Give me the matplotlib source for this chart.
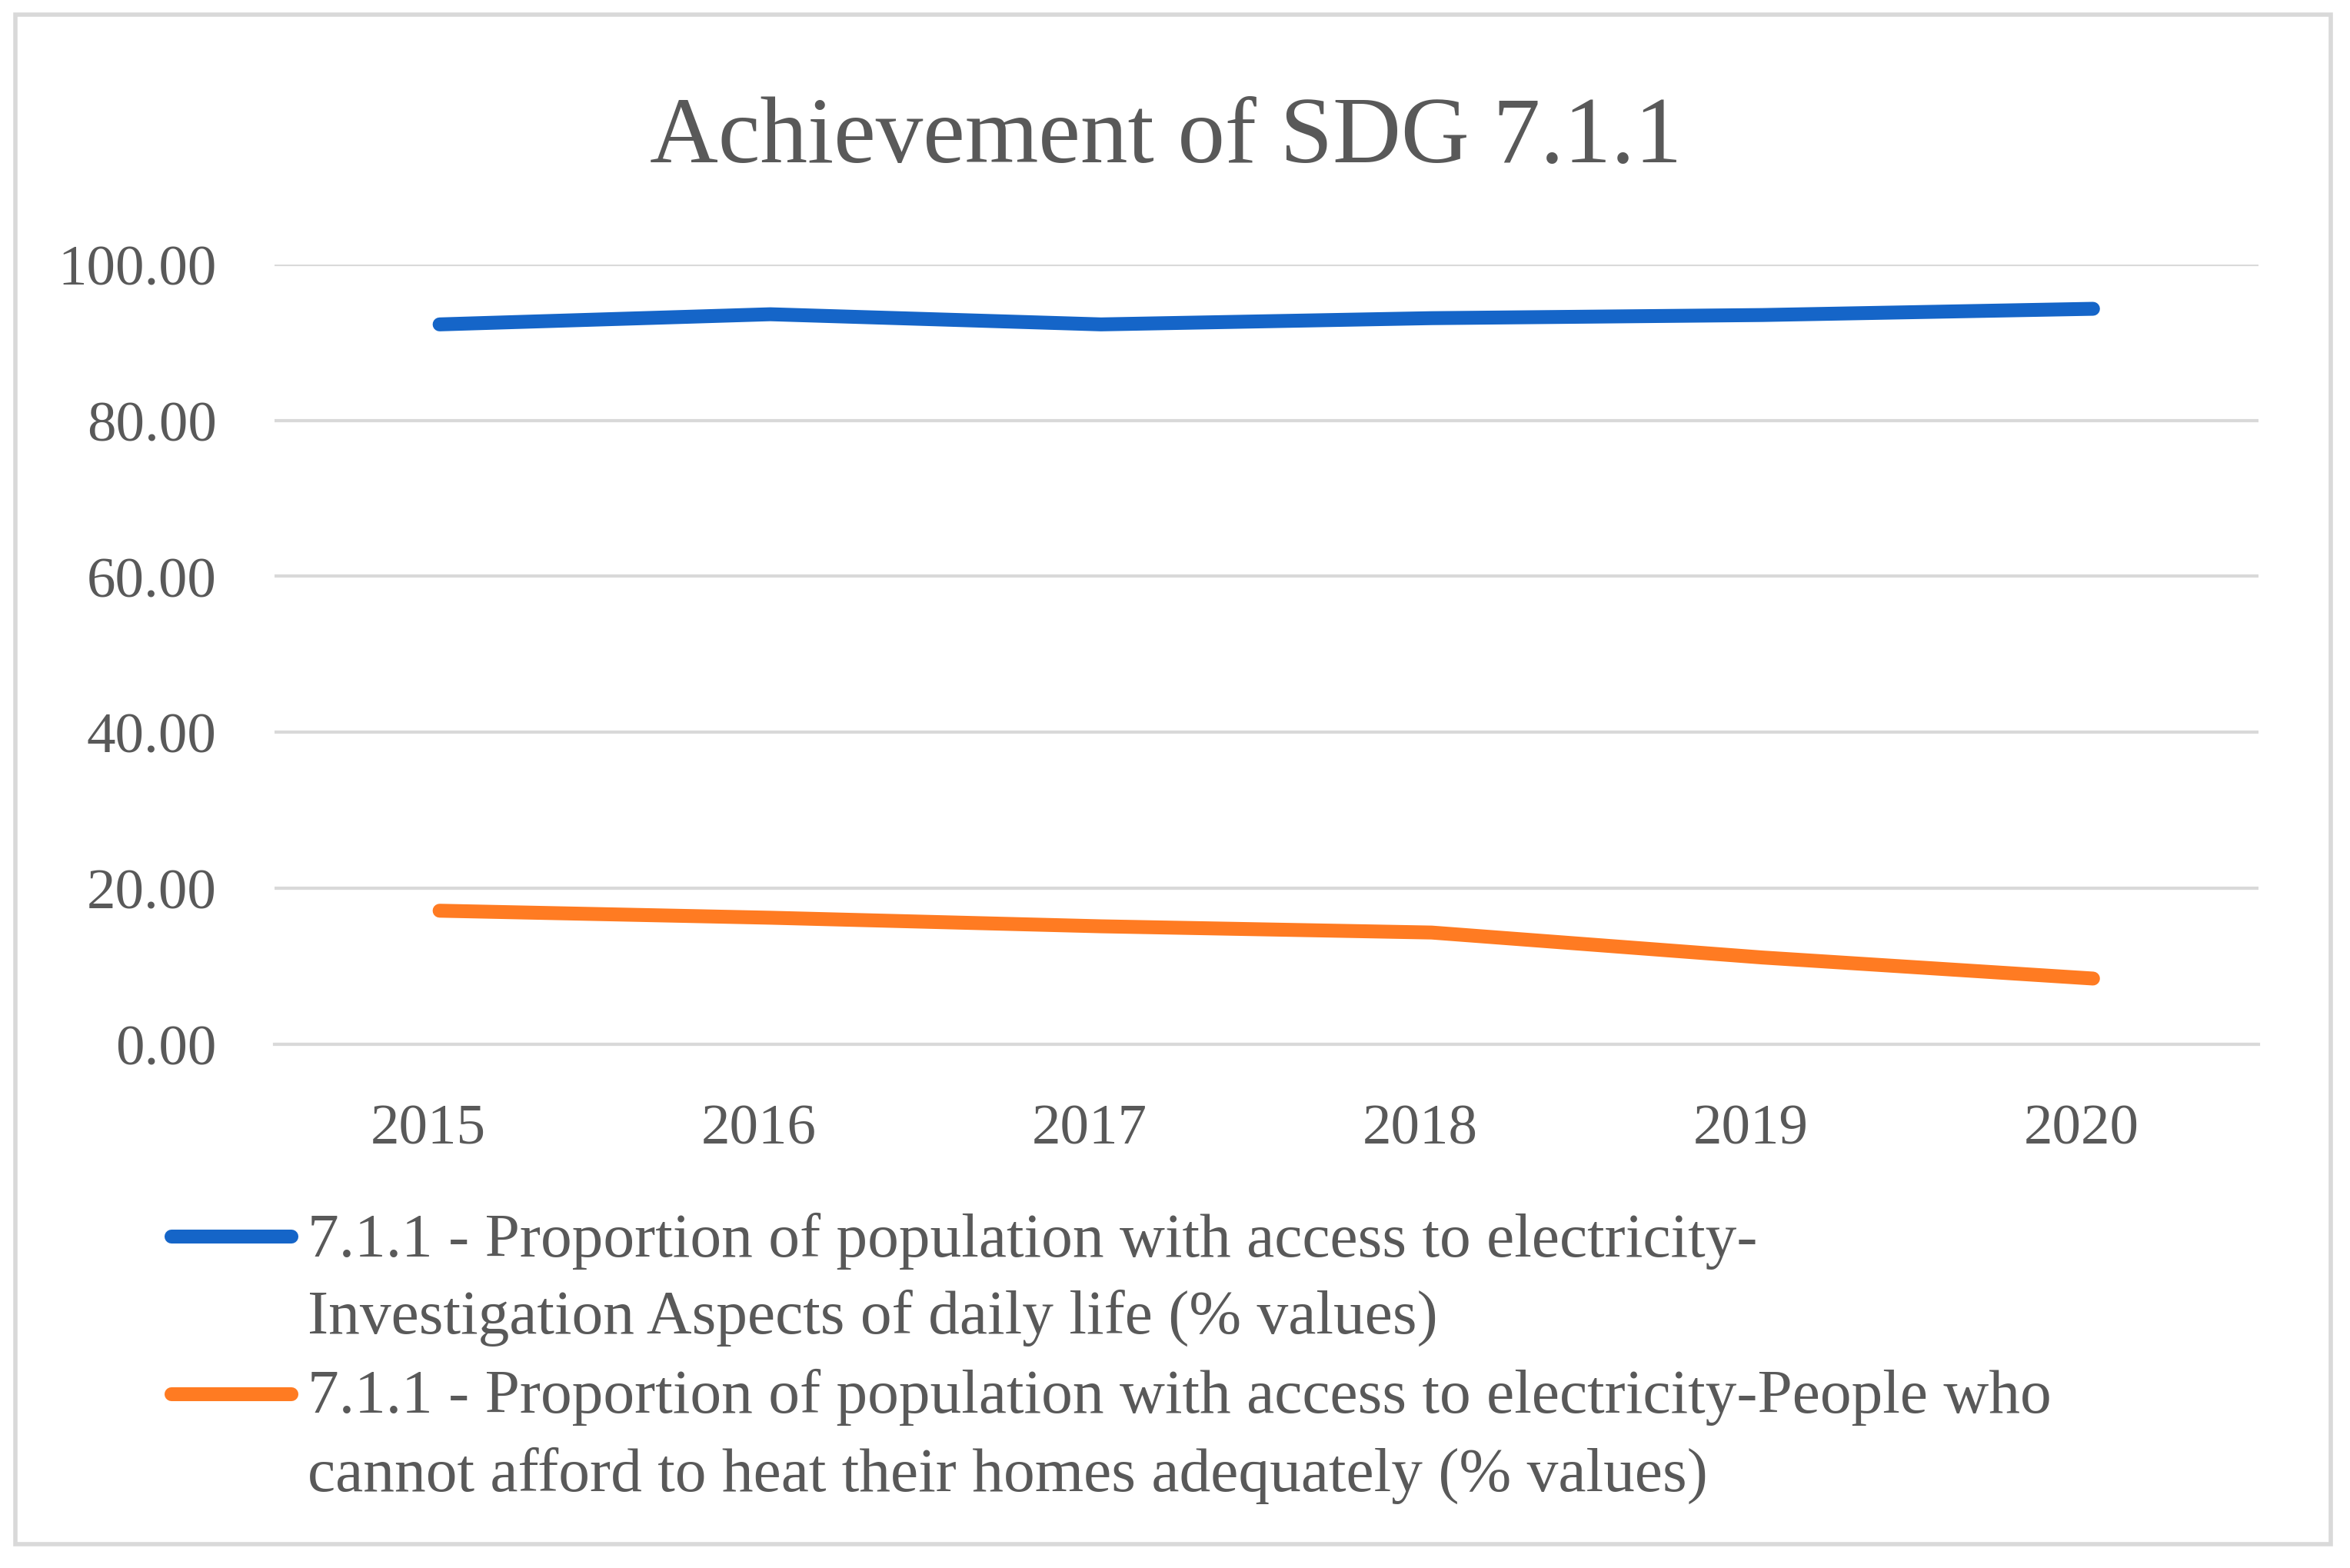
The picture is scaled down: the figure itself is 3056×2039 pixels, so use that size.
import matplotlib.pyplot as plt
from matplotlib.lines import Line2D
from matplotlib.patches import Rectangle
from matplotlib.transforms import ScaledTranslation

# data
years = [2015, 2016, 2017, 2018, 2019, 2020]
access_daily_life = [92.3, 93.6, 92.3, 93.1, 93.5, 94.3]
cannot_heat = [17.1, 16.2, 15.1, 14.3, 11.1, 8.4]
y_ticks = [0, 20, 40, 60, 80, 100]

label_blue = ["7.1.1 - Proportion of population with access to electricity-",
              "Investigation Aspects of daily life (% values)"]
label_orange = ["7.1.1 - Proportion of population with access to electricity-People who",
                "cannot afford to heat their homes adequately (% values)"]

BLUE = '#1565C8'
ORANGE = '#FF7B22'
TEXT = '#595959'
GRID = '#D9D9D9'

plt.rcParams['font.family'] = ['Liberation Serif', 'DejaVu Serif']

fig = plt.figure(figsize=(15.28, 10.2), dpi=200)
ax = fig.add_axes([0.1167, 0.334, 0.8443, 0.497])

ax.plot(years, access_daily_life, color=BLUE, lw=6.5,
        solid_capstyle='round', solid_joinstyle='round')
ax.plot(years, cannot_heat, color=ORANGE, lw=6.5,
        solid_capstyle='round', solid_joinstyle='round')

ax.set_xlim(2014.5, 2020.5)
ax.set_ylim(0, 100)
ax.set_yticks(y_ticks)
ax.set_yticklabels([f'{v:.2f}' for v in y_ticks])
ax.set_xticks(years)
ax.set_xticklabels([str(y) for y in years])
ax.tick_params(axis='y', length=0, pad=27, labelsize=27, labelcolor=TEXT)
ax.tick_params(axis='x', length=0, pad=28, labelsize=27, labelcolor=TEXT)
# category labels sit a little left of the data points in the original
shift = ScaledTranslation(-5.5 / 72, 0, fig.dpi_scale_trans)
for lbl in ax.get_xticklabels():
    lbl.set_transform(lbl.get_transform() + shift)
ax.grid(axis='y', color=GRID, lw=1.5)
ax.set_axisbelow(True)
for s in ax.spines.values():
    s.set_visible(False)
ax.spines['bottom'].set_visible(True)
ax.spines['bottom'].set_color(GRID)
ax.spines['bottom'].set_linewidth(1.5)

# title
fig.text(0.496, 0.8967, 'Achievement of SDG 7.1.1', ha='center', va='baseline',
         fontsize=44.3, color=TEXT)

# legend (handle aligned with first line of each label)
for hy, color in [(0.2113, BLUE), (0.1109, ORANGE)]:
    fig.add_artist(Line2D([0.073, 0.124], [hy, hy], transform=fig.transFigure,
                          color=color, lw=6.5, solid_capstyle='round'))
baselines = [0.1989, 0.1501, 0.0994, 0.0497]
for y, txt in zip(baselines, label_blue + label_orange):
    fig.text(0.131, y, txt, ha='left', va='baseline', fontsize=29.3, color=TEXT)

# outer chart border
fig.add_artist(Rectangle((0.0064, 0.0153), 0.9853, 0.9751, transform=fig.transFigure,
                         fill=False, edgecolor=GRID, lw=2))

fig.savefig('out.png', dpi=200)
